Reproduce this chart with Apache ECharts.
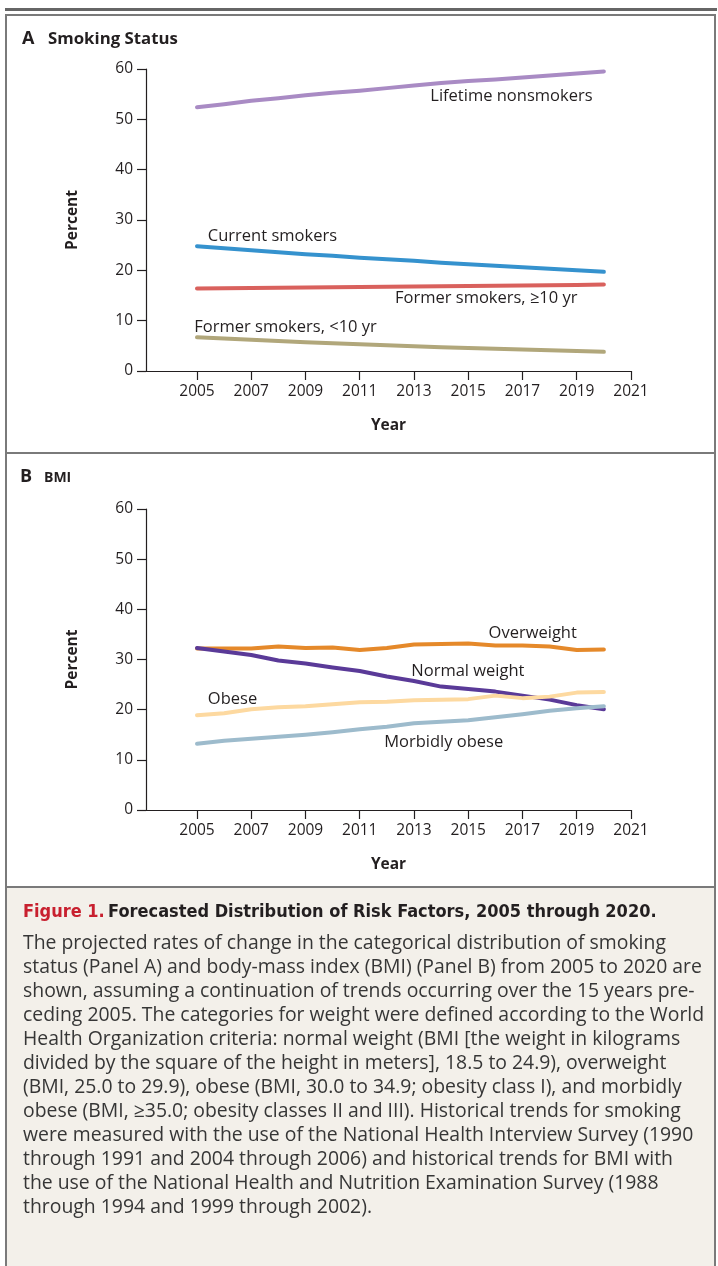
<!DOCTYPE html>
<html>
<head>
<meta charset="utf-8">
<title>Forecasted Distribution of Risk Factors, 2005 through 2020</title>
<script src="https://cdn.jsdelivr.net/npm/echarts@6/dist/echarts.min.js"></script>
<style>
  html, body { margin: 0; padding: 0; background: #ffffff; }
  #chart { width: 718px; height: 1266px; }
</style>
</head>
<body>
<div id="chart"></div>
<script>
// Projection years
const years = [2005, 2006, 2007, 2008, 2009, 2010, 2011, 2012, 2013, 2014, 2015, 2016, 2017, 2018, 2019, 2020];
const yearTicks = [2005, 2007, 2009, 2011, 2013, 2015, 2017, 2019, 2021];
const percentTicks = [0, 10, 20, 30, 40, 50, 60];

// Panel A: smoking status (percent)
const lifetimeNonsmokers = [52.4, 53.0, 53.7, 54.2, 54.8, 55.3, 55.7, 56.2, 56.7, 57.2, 57.6, 57.9, 58.3, 58.7, 59.1, 59.5];
const currentSmokers     = [24.8, 24.4, 24.0, 23.6, 23.2, 22.9, 22.5, 22.2, 21.9, 21.5, 21.2, 20.9, 20.6, 20.3, 20.0, 19.7];
const formerSmokers10Plus = [16.4, 16.45, 16.5, 16.55, 16.6, 16.65, 16.7, 16.75, 16.8, 16.85, 16.9, 16.95, 17.0, 17.05, 17.1, 17.2];
const formerSmokersUnder10 = [6.7, 6.45, 6.2, 5.95, 5.7, 5.5, 5.3, 5.1, 4.9, 4.7, 4.55, 4.4, 4.25, 4.1, 3.95, 3.8];

// Panel B: BMI categories (percent)
const overweight    = [32.2, 32.2, 32.2, 32.6, 32.3, 32.4, 31.9, 32.3, 33.0, 33.1, 33.2, 32.8, 32.8, 32.6, 31.9, 32.0];
const normalWeight  = [32.3, 31.6, 30.9, 29.8, 29.2, 28.4, 27.7, 26.6, 25.7, 24.6, 24.1, 23.6, 22.8, 22.0, 20.9, 20.1];
const obese         = [18.9, 19.3, 20.1, 20.5, 20.7, 21.1, 21.5, 21.6, 21.9, 22.0, 22.1, 22.8, 22.3, 22.6, 23.4, 23.5];
const morbidlyObese = [13.2, 13.8, 14.2, 14.6, 15.0, 15.5, 16.1, 16.6, 17.3, 17.6, 17.9, 18.5, 19.1, 19.8, 20.3, 20.7];

// Where each line's name sits, in [year, percent]
const smokingLabels = [
  ['Lifetime nonsmokers', 2013.6, 54.6],
  ['Current smokers', 2005.4, 26.8],
  ['Former smokers, \u226510 yr', 2012.3, 14.5],
  ['Former smokers, <10 yr', 2004.9, 8.7]
];
const bmiLabels = [
  ['Overweight', 2015.75, 35.3],
  ['Normal weight', 2012.9, 27.7],
  ['Obese', 2005.4, 22.1],
  ['Morbidly obese', 2011.9, 13.4]
];

// Figure caption
const captionTitleRed = 'Figure 1.';
const captionTitle = 'Forecasted Distribution of Risk Factors, 2005 through 2020.';
const captionLines = [
  'The projected rates of change in the categorical distribution of smoking',
  'status (Panel A) and body-mass index (BMI) (Panel B) from 2005 to 2020 are',
  'shown, assuming a continuation of trends occurring over the 15 years pre-',
  'ceding 2005. The categories for weight were defined according to the World',
  'Health Organization criteria: normal weight (BMI [the weight in kilograms',
  'divided by the square of the height in meters], 18.5 to 24.9), overweight',
  '(BMI, 25.0 to 29.9), obese (BMI, 30.0 to 34.9; obesity class I), and morbidly',
  'obese (BMI, \u226535.0; obesity classes II and III). Historical trends for smoking',
  'were measured with the use of the National Health Interview Survey (1990',
  'through 1991 and 2004 through 2006) and historical trends for BMI with',
  'the use of the National Health and Nutrition Examination Survey (1988',
  'through 1994 and 1999 through 2002).'
];

const FONT = '"Open Sans", "Noto Sans", sans-serif';
const NARROW = '"Liberation Sans Narrow", "DejaVu Sans Condensed", sans-serif';
const TEXT = '#231f20';
const BORDER = '#7a7a7a';

const pairs = vals => years.map((y, i) => [y, vals[i]]);

function xAxisFor(gridIndex) {
  return {
    type: 'value', gridIndex, min: 2003.12, max: 2021,
    name: 'Year', nameLocation: 'middle', nameGap: 47,
    nameTextStyle: { fontFamily: FONT, fontSize: 15.5, fontWeight: 'bold', color: TEXT },
    axisLine: { show: true, lineStyle: { color: TEXT, width: 1.2 } },
    axisTick: { show: true, length: 9, inside: false, customValues: yearTicks, lineStyle: { color: TEXT, width: 1.2 } },
    axisLabel: { show: true, customValues: yearTicks, margin: 13, fontFamily: FONT, fontSize: 15.5, color: TEXT,
                 formatter: v => String(Math.round(v)) },
    splitLine: { show: false }
  };
}
function yAxisFor(gridIndex) {
  return {
    type: 'value', gridIndex, min: 0, max: 60, interval: 10,
    name: 'Percent', nameLocation: 'middle', nameGap: 65, nameRotate: 90,
    nameTextStyle: { fontFamily: FONT, fontSize: 15.5, fontWeight: 'bold', color: TEXT },
    axisLine: { show: true, lineStyle: { color: TEXT, width: 1.2 } },
    axisTick: { show: true, length: 9, inside: false, lineStyle: { color: TEXT, width: 1.2 } },
    axisLabel: { show: true, margin: 13, fontFamily: FONT, fontSize: 15.5, color: TEXT,
                 customValues: percentTicks },
    splitLine: { show: false }
  };
}

function lineSeries(name, vals, color, idx, labels) {
  const s = {
    name, type: 'line', xAxisIndex: idx, yAxisIndex: idx,
    data: pairs(vals), showSymbol: false, smooth: false,
    lineStyle: { color, width: 4, cap: 'round', join: 'round' },
    z: 3
  };
  if (labels) {
    s.markPoint = {
      symbol: 'circle', symbolSize: 0, silent: true, animation: false,
      data: labels.map(l => ({
        coord: [l[1], l[2]], name: l[0],
        label: { show: true, position: 'right', distance: 0, formatter: l[0],
                 fontFamily: FONT, fontSize: 16.5, color: TEXT }
      }))
    };
  }
  return s;
}

const captionTop = 887;
const graphic = [
  // top rule and outer frame
  { type: 'rect', shape: { x: 5, y: 8, width: 712, height: 3 }, style: { fill: '#666666' }, silent: true },
  { type: 'rect', shape: { x: 6, y: 15, width: 709, height: 1270 }, style: { fill: 'none', stroke: BORDER, lineWidth: 2 }, silent: true, z: 10 },
  { type: 'rect', shape: { x: 7, y: captionTop, width: 707, height: 400 }, style: { fill: '#f3f0ea' }, silent: true, z: -1 },
  { type: 'line', shape: { x1: 6, y1: 453, x2: 715, y2: 453 }, style: { stroke: BORDER, lineWidth: 2 }, silent: true, z: 10 },
  { type: 'line', shape: { x1: 6, y1: captionTop, x2: 715, y2: captionTop }, style: { stroke: BORDER, lineWidth: 2 }, silent: true, z: 10 },
  // panel headings
  { type: 'text', x: 22, y: 39, style: { text: 'A', fontFamily: FONT, fontSize: 18, fontWeight: 'bold', fill: TEXT, verticalAlign: 'middle' } },
  { type: 'text', x: 48, y: 39, style: { text: 'Smoking Status', fontFamily: FONT, fontSize: 16.8, fontWeight: 'bold', fill: TEXT, verticalAlign: 'middle' } },
  { type: 'text', x: 20, y: 477, style: { text: 'B', fontFamily: FONT, fontSize: 18, fontWeight: 'bold', fill: TEXT, verticalAlign: 'middle' } },
  { type: 'text', x: 44, y: 478, style: { text: 'BMI', fontFamily: FONT, fontSize: 14, fontWeight: 'bold', fill: TEXT, verticalAlign: 'middle' } },
  // caption title
  { type: 'text', x: 23, y: 912, style: {
      text: '{r|' + captionTitleRed + '} {b|' + captionTitle + '}',
      verticalAlign: 'middle',
      rich: {
        r: { fontFamily: NARROW, fontSize: 18, fontWeight: 'bold', fill: '#c8202f' },
        b: { fontFamily: NARROW, fontSize: 18, fontWeight: 'bold', fill: TEXT }
      } } }
].concat(captionLines.map((t, i) => ({
  type: 'text', x: 23, y: 943 + i * 24,
  style: { text: t, fontFamily: FONT, fontSize: 19.4, fill: '#363636', verticalAlign: 'middle' }
})));

const chart = echarts.init(document.getElementById('chart'), null, { renderer: 'canvas', width: 718, height: 1266 });
chart.setOption({
  animation: false,
  backgroundColor: '#ffffff',
  grid: [
    { left: 146, top: 69, width: 485, height: 302 },
    { left: 146, top: 509, width: 485, height: 301 }
  ],
  xAxis: [xAxisFor(0), xAxisFor(1)],
  yAxis: [yAxisFor(0), yAxisFor(1)],
  series: [
    lineSeries('Lifetime nonsmokers', lifetimeNonsmokers, '#a98bc4', 0, smokingLabels),
    lineSeries('Current smokers', currentSmokers, '#3592ce', 0),
    lineSeries('Former smokers, \u226510 yr', formerSmokers10Plus, '#d9615d', 0),
    lineSeries('Former smokers, <10 yr', formerSmokersUnder10, '#b1a77b', 0),
    lineSeries('Overweight', overweight, '#e5892a', 1, bmiLabels),
    lineSeries('Normal weight', normalWeight, '#5a3a98', 1),
    lineSeries('Obese', obese, '#fdd9a0', 1),
    lineSeries('Morbidly obese', morbidlyObese, '#9dbbcc', 1)
  ],
  graphic
});
</script>
</body>
</html>
